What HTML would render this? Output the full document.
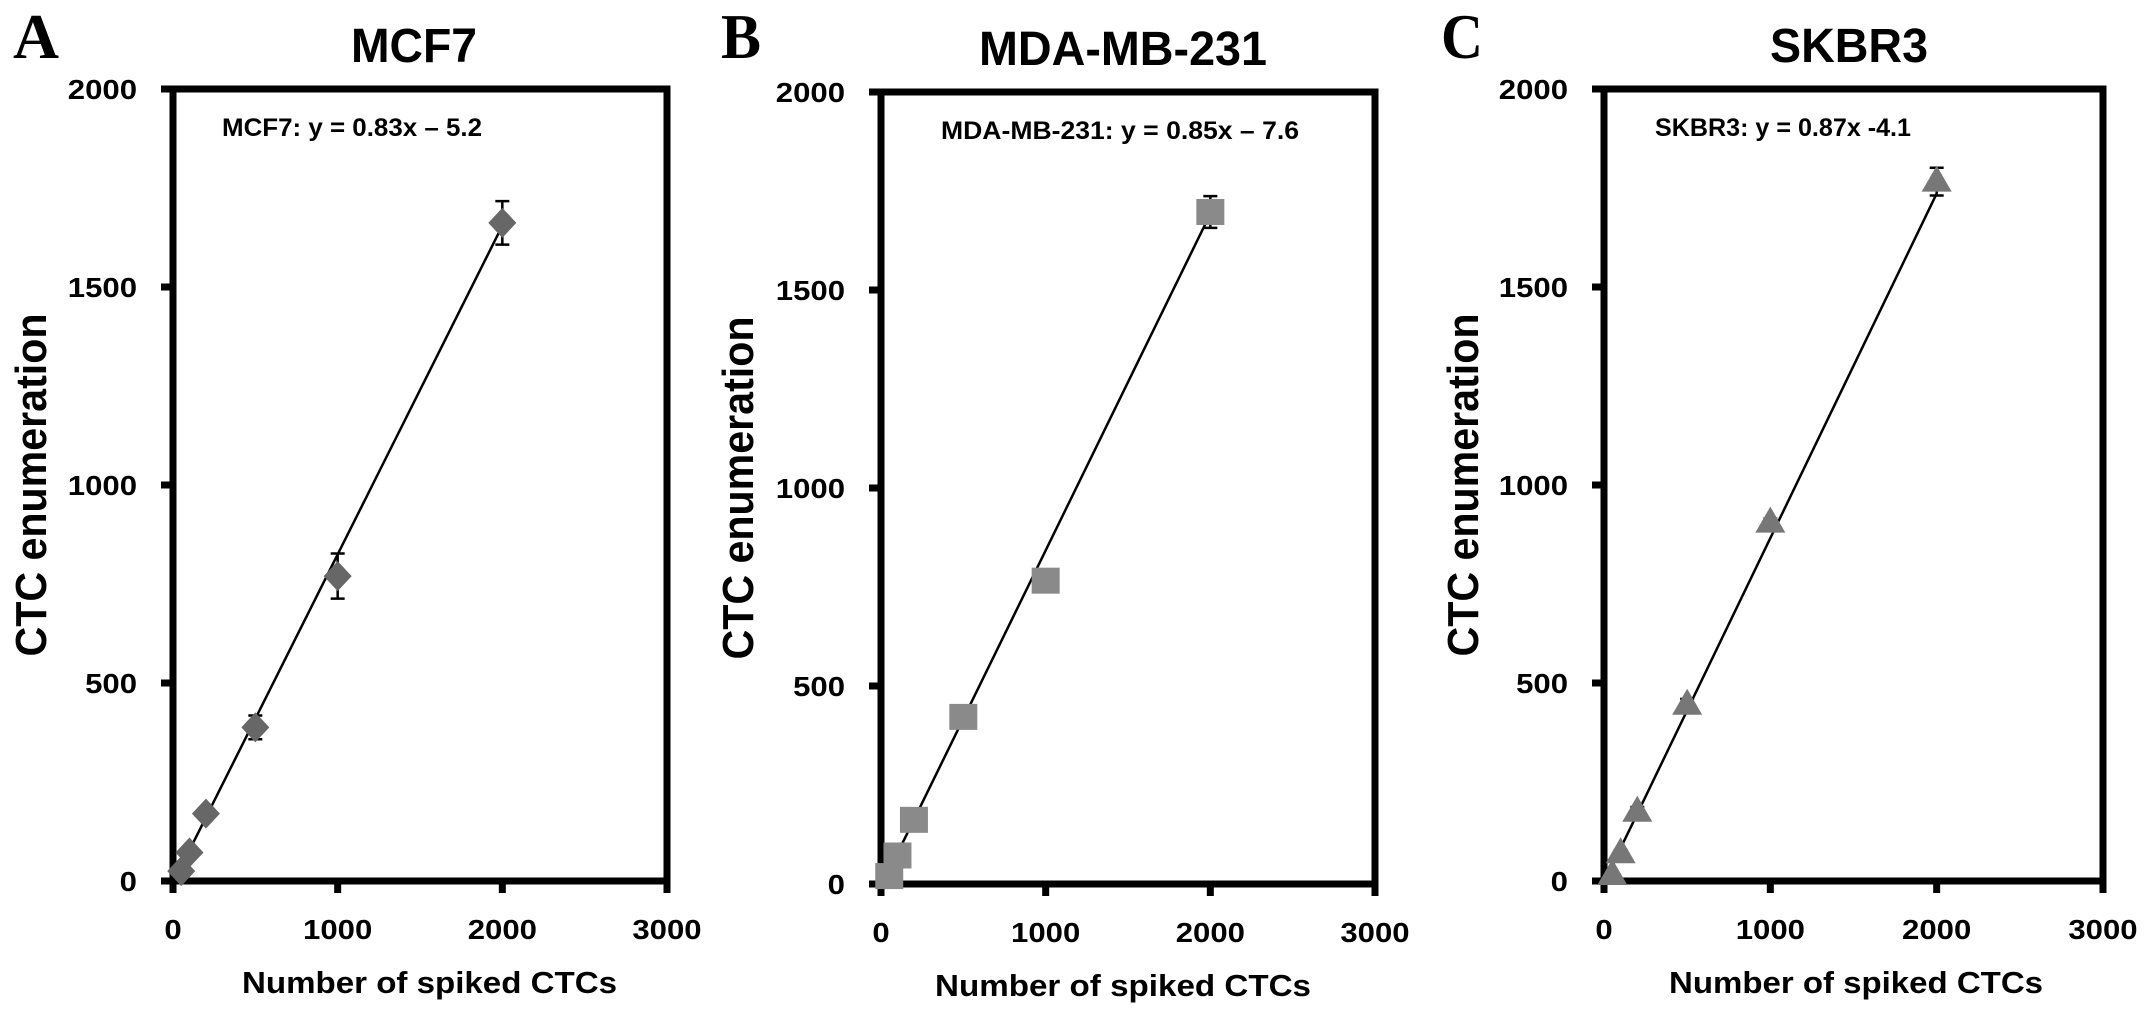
<!DOCTYPE html>
<html><head><meta charset="utf-8">
<style>
html,body{margin:0;padding:0;background:#fff;}
svg{display:block;font-family:"Liberation Sans",Arial,sans-serif;}
</style></head>
<body>
<svg id="fig" width="2150" height="1016" viewBox="0 0 2150 1016"></svg>
<script>
// ---- data ----
const xValues = [50, 100, 200, 500, 1000, 2000];
const mcf7Values = [25, 72, 170, 388, 770, 1662];
const mcf7Errors = [8, 10, 10, 30, 57, 55];
const mdaValues = [20, 72, 162, 422, 766, 1697];
const mdaErrors = [5, 5, 5, 8, 10, 40];
const skbr3Values = [15, 70, 175, 445, 905, 1766];
const skbr3Errors = [5, 8, 12, 15, 10, 35];
const xTicks = [0, 1000, 2000, 3000];
const yTicks = [0, 500, 1000, 1500, 2000];
const xTickLabels = ["0", "1000", "2000", "3000"];
const yTickLabels = ["0", "500", "1000", "1500", "2000"];
const fitSlopes = [0.83, 0.85, 0.87];
const fitIntercepts = [-5.2, -7.6, -4.1];
const panelTitles = ["MCF7", "MDA-MB-231", "SKBR3"];
const panelLetters = ["A", "B", "C"];
const equations = ["MCF7: y = 0.83x \u2013 5.2", "MDA-MB-231: y = 0.85x \u2013 7.6", "SKBR3: y = 0.87x -4.1"];

const NS = "http://www.w3.org/2000/svg";
const svg = document.getElementById("fig");
function mk(tag, attrs, parent) {
  const e = document.createElementNS(NS, tag);
  for (const k in attrs) e.setAttribute(k, attrs[k]);
  (parent || svg).appendChild(e);
  return e;
}

const panels = [
  {left:173, right:667, top:89, bottom:881, letterX:13, letterW:46, titleX:351, titleW:126, eqX:222, eqW:260, ylabX:30, xlabX:242, xlabW:375, values:mcf7Values, errors:mcf7Errors, marker:"diamond", color:"#676767"},
  {left:881, right:1375, top:92, bottom:884, letterX:721, letterW:40, titleX:979, titleW:288, eqX:941, eqW:358, ylabX:737, xlabX:935, xlabW:376, values:mdaValues, errors:mdaErrors, marker:"square", color:"#8a8a8a"},
  {left:1604, right:2103, top:89, bottom:881, letterX:1441, letterW:42, titleX:1770, titleW:158, eqX:1655, eqW:256, ylabX:1462, xlabX:1669, xlabW:374, values:skbr3Values, errors:skbr3Errors, marker:"triangle", color:"#777777"}
];

panels.forEach((p, pi) => {
  const g = mk("g", {});
  
  
  const xs = v => p.left + (v - 0) / 3000 * (p.right - p.left);
  const ys = v => p.bottom - v / 2000 * (p.bottom - p.top);

  const L = mk("text", {x:p.letterX, y:58, "font-family":"Liberation Serif, serif", "font-weight":"bold", "font-size":64, textLength:p.letterW, lengthAdjust:"spacingAndGlyphs"}, g);
  L.textContent = panelLetters[pi];
  
  
  const T = mk("text", {x:p.titleX, y:p.top - 27, "font-weight":"bold", "font-size":48, textLength:p.titleW, lengthAdjust:"spacingAndGlyphs"}, g);
  T.textContent = panelTitles[pi];
  
  

  const F = mk("rect", {x:p.left, y:p.top, width:p.right-p.left, height:p.bottom-p.top, fill:"none", stroke:"#000", "stroke-width":7}, g);
  
  

  yTicks.forEach((t, i) => {
    const y = ys(t);
    const tk = mk("line", {x1:p.left-12, x2:p.left, y1:y, y2:y, stroke:"#000", "stroke-width":7}, g);
    
    
    const lab = yTickLabels[i];
    const tx = mk("text", {x:p.left-36, y:y+10, "text-anchor":"end", "font-weight":"bold", "font-size":28, textLength:lab.length*17.3, lengthAdjust:"spacingAndGlyphs"}, g);
    tx.textContent = lab;
    
    
  });
  xTicks.forEach((t, i) => {
    const x = xs(t);
    const tk = mk("line", {x1:x, x2:x, y1:p.bottom, y2:p.bottom+12, stroke:"#000", "stroke-width":7}, g);
    
    
    const lab = xTickLabels[i];
    const tx = mk("text", {x:x, y:p.bottom+58, "text-anchor":"middle", "font-weight":"bold", "font-size":28, textLength:lab.length*17.3, lengthAdjust:"spacingAndGlyphs"}, g);
    tx.textContent = lab;
    
    
  });

  const XL = mk("text", {x:p.xlabX, y:p.bottom+112, "font-weight":"bold", "font-size":31, textLength:p.xlabW, lengthAdjust:"spacingAndGlyphs"}, g);
  XL.textContent = "Number of spiked CTCs";
  
  
  const cy = (p.top + p.bottom) / 2;
  const YL = mk("text", {x:0, y:0, "text-anchor":"middle", "font-weight":"bold", "font-size":44, textLength:343, lengthAdjust:"spacingAndGlyphs", transform:"translate(" + (p.ylabX + 16) + "," + cy + ") rotate(-90)"}, g);
  YL.textContent = "CTC enumeration";
  
  

  const E = mk("text", {x:p.eqX, y:p.top + 47, "font-weight":"bold", "font-size":25, textLength:p.eqW, lengthAdjust:"spacingAndGlyphs"}, g);
  E.textContent = equations[pi];
  
  

  // error bars (behind markers)
  xValues.forEach((xv, i) => {
    const cx = xs(xv);
    const y1 = ys(p.values[i] + p.errors[i]), y2 = ys(p.values[i] - p.errors[i]);
    const eb = mk("path", {d:"M"+cx+","+y1+"V"+y2+"M"+(cx-7)+","+y1+"H"+(cx+7)+"M"+(cx-7)+","+y2+"H"+(cx+7), stroke:"#000", "stroke-width":2.5, fill:"none"}, g);
    
    
  });

  // fit line
  const x0 = 40, x1 = 2000;
  const fl = mk("line", {x1:xs(x0), y1:ys(fitSlopes[pi]*x0 + fitIntercepts[pi]), x2:xs(x1), y2:ys(fitSlopes[pi]*x1 + fitIntercepts[pi]), stroke:"#000", "stroke-width":2.5}, g);
  
  

  // markers
  xValues.forEach((xv, i) => {
    const cx = xs(xv), cyv = ys(p.values[i]);
    let m;
    if (p.marker === "diamond") {
      m = mk("polygon", {points:[cx,cyv-15, cx+14,cyv, cx,cyv+15, cx-14,cyv].join(","), fill:p.color}, g);
    } else if (p.marker === "square") {
      m = mk("rect", {x:cx-14, y:cyv-13, width:28, height:26, fill:p.color}, g);
    } else {
      m = mk("polygon", {points:[cx,cyv-16, cx+15,cyv+10, cx-15,cyv+10].join(","), fill:p.color}, g);
    }
    
    
  });
});
</script>
</body></html>
